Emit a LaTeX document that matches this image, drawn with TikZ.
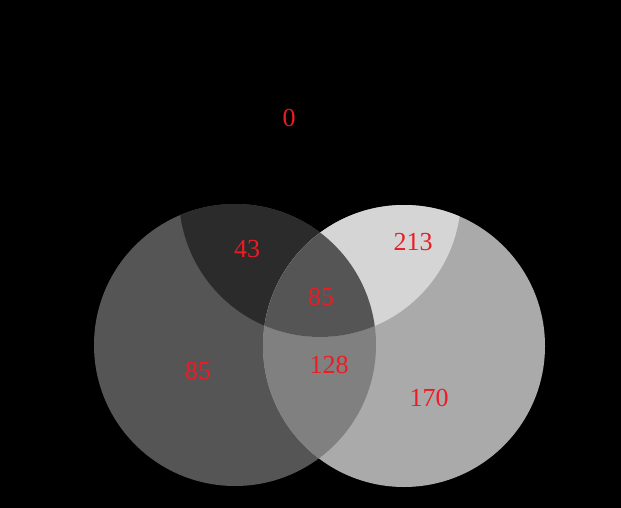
\documentclass[tikz,border=0pt]{standalone}
\usepackage{fontspec}
\setmainfont{Liberation Serif}
\usetikzlibrary{positioning}
\definecolor{g43}{RGB}{43,43,43}
\definecolor{g85}{RGB}{85,85,85}
\definecolor{g128}{RGB}{128,128,128}
\definecolor{g170}{RGB}{170,170,170}
\definecolor{g213}{RGB}{213,213,213}
\definecolor{numred}{RGB}{236,28,36}

\begin{document}
\begin{tikzpicture}[x=1pt, y=-1pt, num/.style={text=numred, font=\fontsize{26}{26}\selectfont, inner sep=0pt}]
		\def\setL{(235,345) circle[radius=141pt]}
		\def\setR{(404,346) circle[radius=141pt]}
		\def\setT{(320,196) circle[radius=141pt]}

		\fill[black] (0,0) rectangle (621,508);
		\useasboundingbox (0,0) rectangle (621,508);

		% single sets
		\fill[g85] \setL;
		\fill[g170] \setR;
		\begin{scope}
			\clip \setL;
			\fill[g128] \setR;
		\end{scope}
		% overlaps with the top set
		\begin{scope}
			\clip \setT;
			\fill[g43] \setL;
			\fill[g213] \setR;
			\clip \setL;
			\fill[g85] \setR;
		\end{scope}

		\node[num] (n0) at (289,118) {0};
		\node[num] (nLT) at (247,249) {43};
		\node[num] (nRT) at (413,242) {213};
		\node[num] (nLRT) at (321,297) {85};
		\node[num] (nL) at (198,371) {85};
		\node[num] (nLR) at (329,365) {128};
		\node[num] (nR) at (429,398) {170};
	\end{tikzpicture}
\end{document}
